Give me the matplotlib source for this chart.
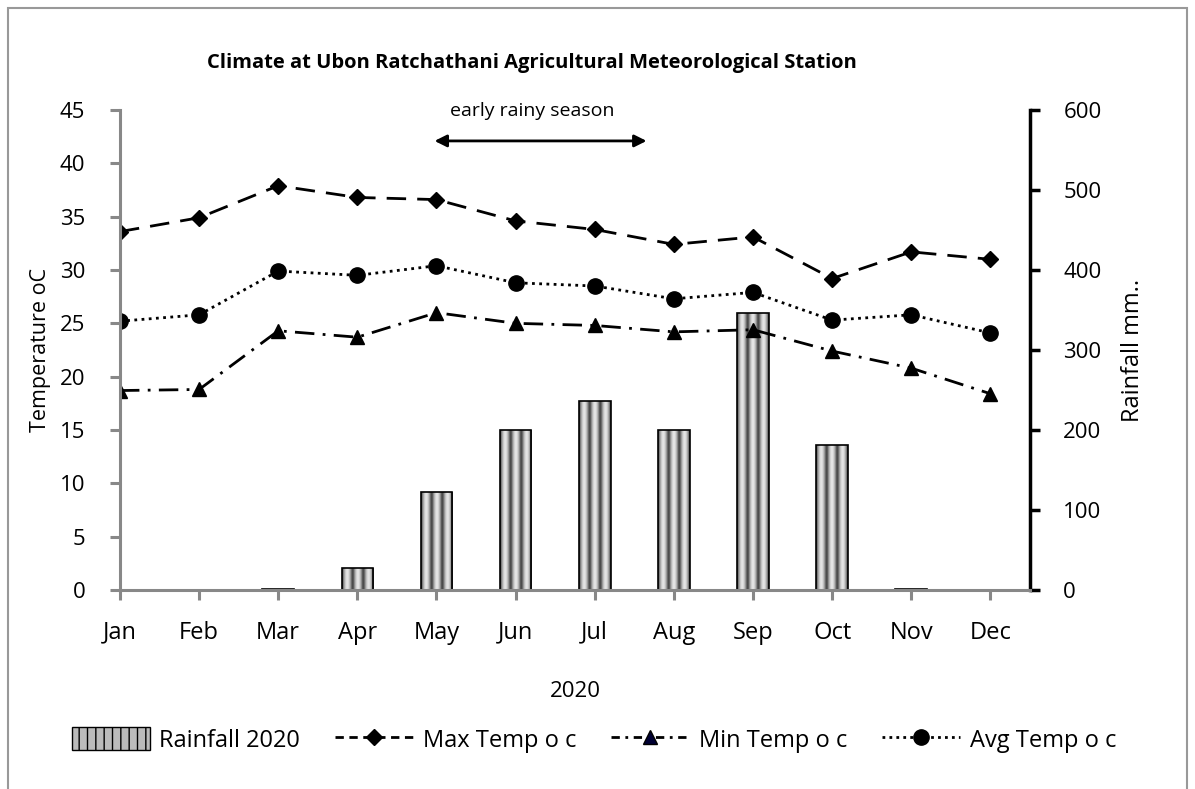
import numpy as np
import matplotlib.pyplot as plt
from matplotlib.lines import Line2D
from matplotlib.patches import Rectangle

plt.rcParams['font.family'] = ['Open Sans', 'DejaVu Sans']

months = ['Jan', 'Feb', 'Mar', 'Apr', 'May', 'Jun', 'Jul', 'Aug', 'Sep', 'Oct', 'Nov', 'Dec']
rainfall = [0, 0, 0.8, 27.5, 122.5, 200, 236, 200, 346, 181, 0.8, 0]
max_temp = [33.6, 34.9, 37.9, 36.8, 36.6, 34.6, 33.8, 32.4, 33.1, 29.2, 31.7, 31.0]
avg_temp = [25.2, 25.8, 29.9, 29.5, 30.4, 28.8, 28.5, 27.3, 27.9, 25.3, 25.8, 24.1]
min_temp = [18.7, 18.8, 24.3, 23.7, 26.0, 25.0, 24.8, 24.2, 24.4, 22.4, 20.8, 18.4]

fig = plt.figure(figsize=(11.95, 7.89), dpi=100)
ax = fig.add_axes([0.1004, 0.2522, 0.7615, 0.6084])
ax2 = ax.twinx()
ax.set_zorder(2)
ax.patch.set_visible(False)

x = np.arange(len(months))

# rainfall bars, filled with a striped grey gradient
bars = ax2.bar(x, rainfall, width=0.4, facecolor='none', edgecolor='black', linewidth=1.2, zorder=3)
stripe = np.concatenate([0.3 + 0.6 * np.sin(np.linspace(0, np.pi, 10)) for _ in range(3)])
for b in bars:
    if b.get_height() <= 0:
        continue
    im = ax2.imshow(stripe[np.newaxis, :], cmap='gray', vmin=0, vmax=1, aspect='auto',
                    extent=[b.get_x(), b.get_x() + b.get_width(), 0, b.get_height()],
                    interpolation='bilinear', zorder=2)
    im.set_clip_path(b)
ax2.set_ylim(0, 600)
ax2.set_yticks(range(0, 601, 100))
ax2.set_ylabel('Rainfall mm..', fontsize=17, labelpad=14)

ax.plot(x, max_temp, color='black', lw=2, ls=(0, (7, 4)), marker='D', ms=8, label='Max Temp o c')
ax.plot(x, min_temp, color='black', lw=2, ls=(0, (7, 3, 1, 3)), marker='^', ms=10, label='Min Temp o c')
ax.plot(x, avg_temp, color='black', lw=2, ls=(0, (1, 1.6)), marker='o', ms=11, label='Avg Temp o c')

ax.set_xlim(0, len(months) - 0.5)
ax2.set_xlim(0, len(months) - 0.5)
ax.set_ylim(0, 45)
ax.set_yticks(range(0, 46, 5))
ax.set_xticks(x)
ax.set_xticklabels(months)
ax.set_ylabel('Temperature oC', fontsize=15.5, labelpad=6)
ax.set_xlabel('2020', fontsize=16, labelpad=26)

for a in (ax, ax2):
    a.spines['top'].set_visible(False)
ax.spines['left'].set_color('#888888')
ax.spines['left'].set_linewidth(2.2)
ax.spines['bottom'].set_color('#888888')
ax.spines['bottom'].set_linewidth(2.2)
ax.spines['right'].set_visible(False)
ax2.spines['left'].set_visible(False)
ax2.spines['bottom'].set_visible(False)
ax2.spines['right'].set_color('black')
ax2.spines['right'].set_linewidth(2.5)
ax.tick_params(axis='y', length=7, width=2.2, color='#888888', labelsize=16, pad=18)
ax.tick_params(axis='x', length=7, width=2.2, color='#888888', labelsize=17, pad=15)
ax2.tick_params(axis='y', length=7, width=2.5, color='black', labelsize=16, pad=17)

# early rainy season annotation
ax.annotate('', xy=(3.94, 42.1), xytext=(6.69, 42.1),
            arrowprops=dict(arrowstyle='<|-|>', color='black', lw=2, mutation_scale=18))
ax.text(5.21, 44.9, 'early rainy season', ha='center', va='center', fontsize=14)

fig.text(0.445, 0.92, 'Climate at Ubon Ratchathani Agricultural Meteorological Station',
         ha='center', va='center', fontsize=14.5, fontweight='bold')

handles = [Rectangle((0, 0), 1, 1, facecolor='#bbbbbb', edgecolor='black', hatch='||'),
           Line2D([], [], color='black', lw=2, ls=(0, (3, 2)), marker='D', ms=8),
           Line2D([], [], color='black', lw=2, ls=(0, (3, 2, 1, 2)), marker='^', ms=10, mfc='#000033'),
           Line2D([], [], color='black', lw=2, ls=(0, (1, 1.5)), marker='o', ms=11)]
labels = ['Rainfall 2020', 'Max Temp o c', 'Min Temp o c', 'Avg Temp o c']
fig.legend(handles, labels, loc='center', bbox_to_anchor=(0.497, 0.062), ncol=4, frameon=False,
           fontsize=17, handlelength=3.3, handleheight=1.1, columnspacing=1.5, handletextpad=0.4)

fig.add_artist(Rectangle((0.007, -0.05), 0.986, 1.04, transform=fig.transFigure,
                         fill=False, edgecolor='#999999', linewidth=1.5))

fig.savefig('out.png', dpi=100)
